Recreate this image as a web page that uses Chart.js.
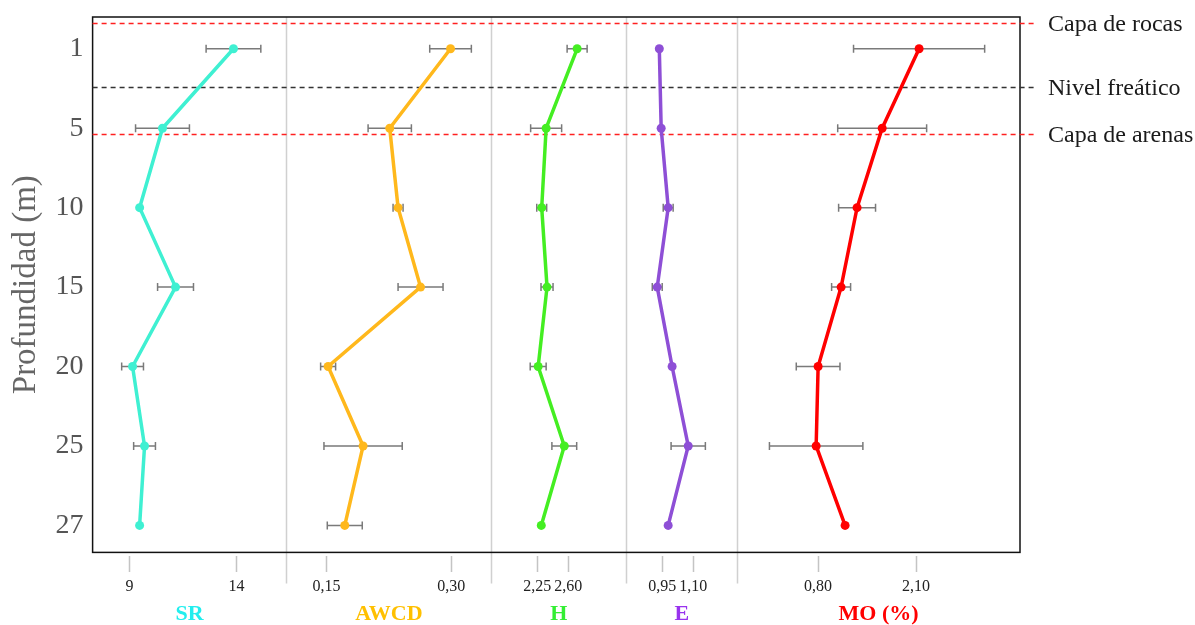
<!DOCTYPE html>
<html lang="es">
<head>
    <meta charset="UTF-8">
    <title>Perfil de profundidad</title>
    <script src="https://cdn.jsdelivr.net/npm/chart.js"></script>
    <style>
        html, body {
            margin: 0;
            padding: 0;
            background-color: #fff;
        }
        #wrap {
            width: 1195px;
            height: 625px;
        }
    </style>
</head>
<body>
    <div id="wrap"><canvas id="depthChart"></canvas></div>

    <script>
        // Depth levels (m), top to bottom
        const depthLabels = ['1', '5', '10', '15', '20', '25', '27'];

        // Series values and error half-widths (null = no bar)
        const srValues = [13.86, 10.54, 9.47, 11.15, 9.14, 9.70, 9.47];
        const srErrors = [1.28, 1.26, null, 0.84, 0.51, 0.51, null];
        const awcdValues = [0.299, 0.226, 0.236, 0.263, 0.152, 0.194, 0.172];
        const awcdErrors = [0.025, 0.026, 0.006, 0.027, 0.009, 0.047, 0.021];
        const hValues = [2.70, 2.35, 2.30, 2.36, 2.26, 2.555, 2.295];
        const hErrors = [0.113, 0.175, 0.056, 0.068, 0.09, 0.14, null];
        const eValues = [0.936, 0.945, 0.979, 0.926, 0.998, 1.076, 0.979];
        const eErrors = [null, null, 0.024, 0.024, null, 0.083, null];
        const moValues = [2.14, 1.65, 1.317, 1.105, 0.80, 0.774, 1.158];
        const moErrors = [0.87, 0.59, 0.245, 0.126, 0.29, 0.62, null];

        // Tick values and labels of each panel
        const srTicks = [9, 14];
        const srTickLabels = ['9', '14'];
        const awcdTicks = [0.15, 0.30];
        const awcdTickLabels = ['0,15', '0,30'];
        const hTicks = [2.25, 2.60];
        const hTickLabels = ['2,25', '2,60'];
        const eTicks = [0.95, 1.10];
        const eTickLabels = ['0,95', '1,10'];
        const moTicks = [0.80, 2.10];
        const moTickLabels = ['0,80', '2,10'];

        // Reference layers (position in depth-level units)
        const layerNames = ['Capa de rocas', 'Nivel freático', 'Capa de arenas'];
        const layerDepths = [-0.32, 0.48, 1.07];

        const serif = 'Liberation Serif';

        // one panel per variable
        const panels = [
            { id: 'xSR', title: 'SR', values: srValues, errors: srErrors, ticks: srTicks, labels: srTickLabels,
              min: 7.27, max: 16.34, weight: 194, line: '#3ff0d2', titleColor: '#22eeee' },
            { id: 'xAWCD', title: 'AWCD', values: awcdValues, errors: awcdErrors, ticks: awcdTicks, labels: awcdTickLabels,
              min: 0.102, max: 0.348, weight: 205, line: '#ffb81c', titleColor: '#ffc000' },
            { id: 'xH', title: 'H', values: hValues, errors: hErrors, ticks: hTicks, labels: hTickLabels,
              min: 1.731, max: 3.255, weight: 135, line: '#44ee22', titleColor: '#33ee33' },
            { id: 'xE', title: 'E', values: eValues, errors: eErrors, ticks: eTicks, labels: eTickLabels,
              min: 0.776, max: 1.313, weight: 111, line: '#8e4fd6', titleColor: '#9933ee' },
            { id: 'xMO', title: 'MO (%)', values: moValues, errors: moErrors, ticks: moTicks, labels: moTickLabels,
              min: -0.274, max: 3.479, weight: 283, line: '#ff0000', titleColor: '#ff0000' }
        ];

        const scales = {
            y: {
                type: 'linear',
                reverse: true,
                min: -0.40,
                max: 6.34,
                afterBuildTicks: (s) => { s.ticks = depthLabels.map((_, i) => ({ value: i })); },
                // labels sit inside the range, no extra room needed above/below
                afterFit: (s) => { s.paddingTop = 0; s.paddingBottom = 0; },
                ticks: {
                    callback: (v) => depthLabels[v],
                    font: { family: serif, size: 28 },
                    color: '#555',
                    padding: 9
                },
                grid: { display: false, drawTicks: false },
                border: { display: false },
                title: {
                    display: true,
                    text: 'Profundidad (m)',
                    font: { family: serif, size: 33 },
                    color: '#666',
                    padding: 0
                }
            }
        };

        panels.forEach(p => {
            scales[p.id] = {
                type: 'linear',
                position: 'bottom',
                stack: 'panels',
                stackWeight: p.weight,
                min: p.min,
                max: p.max,
                afterBuildTicks: (s) => { s.ticks = p.ticks.map(v => ({ value: v })); },
                ticks: {
                    callback: (v) => p.labels[p.ticks.indexOf(v)],
                    font: { family: serif, size: 16 },
                    color: '#222',
                    padding: 5,
                    maxRotation: 0,
                    autoSkip: false
                },
                grid: {
                    drawOnChartArea: false,
                    drawTicks: true,
                    tickLength: 20,
                    tickColor: '#c4c4c4',
                    tickWidth: 1.5,
                    tickBorderDash: [0, 4, 16, 40]
                },
                border: { display: false },
                title: {
                    display: true,
                    text: p.title,
                    color: p.titleColor,
                    font: { family: serif, size: 22, weight: 'bold' },
                    padding: { top: 0, bottom: -3 }
                }
            };
        });

        const datasets = panels.map(p => ({
            label: p.title,
            xAxisID: p.id,
            yAxisID: 'y',
            data: p.values.map((v, i) => ({ x: v, y: i })),
            errors: p.errors,
            borderColor: p.line,
            backgroundColor: p.line,
            borderWidth: 3.5,
            pointRadius: 4.5,
            pointBorderWidth: 0,
            tension: 0
        }));

        // separators, layer lines, error bars and the frame
        const panelDecor = {
            id: 'panelDecor',
            beforeDatasetsDraw(chart) {
                const ctx = chart.ctx;
                const area = chart.chartArea;
                const y = chart.scales.y;
                ctx.save();

                // panel separators
                ctx.strokeStyle = '#d0d0d0';
                ctx.lineWidth = 1.5;
                panels.slice(0, -1).forEach(p => {
                    const x = Math.round(chart.scales[p.id].right) + 0.5;
                    ctx.beginPath();
                    ctx.moveTo(x, area.top);
                    ctx.lineTo(x, area.bottom + 31);
                    ctx.stroke();
                });

                // error bars
                ctx.strokeStyle = '#7a7a7a';
                ctx.lineWidth = 1.5;
                chart.data.datasets.forEach(ds => {
                    const xs = chart.scales[ds.xAxisID];
                    ds.data.forEach((pt, i) => {
                        const err = ds.errors[i];
                        if (err === null) return;
                        const x1 = xs.getPixelForValue(pt.x - err);
                        const x2 = xs.getPixelForValue(pt.x + err);
                        const py = y.getPixelForValue(pt.y);
                        ctx.beginPath();
                        ctx.moveTo(x1, py);
                        ctx.lineTo(x2, py);
                        ctx.moveTo(x1, py - 4);
                        ctx.lineTo(x1, py + 4);
                        ctx.moveTo(x2, py - 4);
                        ctx.lineTo(x2, py + 4);
                        ctx.stroke();
                    });
                });

                // frame
                ctx.strokeStyle = '#111';
                ctx.lineWidth = 1.5;
                ctx.strokeRect(area.left, area.top, area.right - area.left, area.bottom - area.top);

                // layer lines and names
                ctx.lineWidth = 1.4;
                ctx.setLineDash([5, 4]);
                ctx.font = '24px "' + serif + '"';
                ctx.textBaseline = 'middle';
                layerNames.forEach((name, i) => {
                    const ly = Math.round(y.getPixelForValue(layerDepths[i])) + 0.5;
                    const col = name === 'Nivel freático' ? '#333' : '#ff2020';
                    ctx.strokeStyle = col;
                    ctx.beginPath();
                    ctx.moveTo(area.left, ly);
                    ctx.lineTo(area.right + 14, ly);
                    ctx.stroke();
                    ctx.fillStyle = '#1a1a1a';
                    ctx.fillText(name, area.right + 28, ly + 1);
                });
                ctx.restore();
            }
        };

        new Chart(document.getElementById('depthChart'), {
            type: 'line',
            data: { datasets },
            options: {
                responsive: true,
                maintainAspectRatio: false,
                animation: false,
                layout: { autoPadding: false, padding: { top: 17, right: 175, bottom: 0, left: 7 } },
                plugins: {
                    legend: { display: false },
                    tooltip: { enabled: false }
                },
                scales
            },
            plugins: [panelDecor]
        });
    </script>
</body>
</html>
